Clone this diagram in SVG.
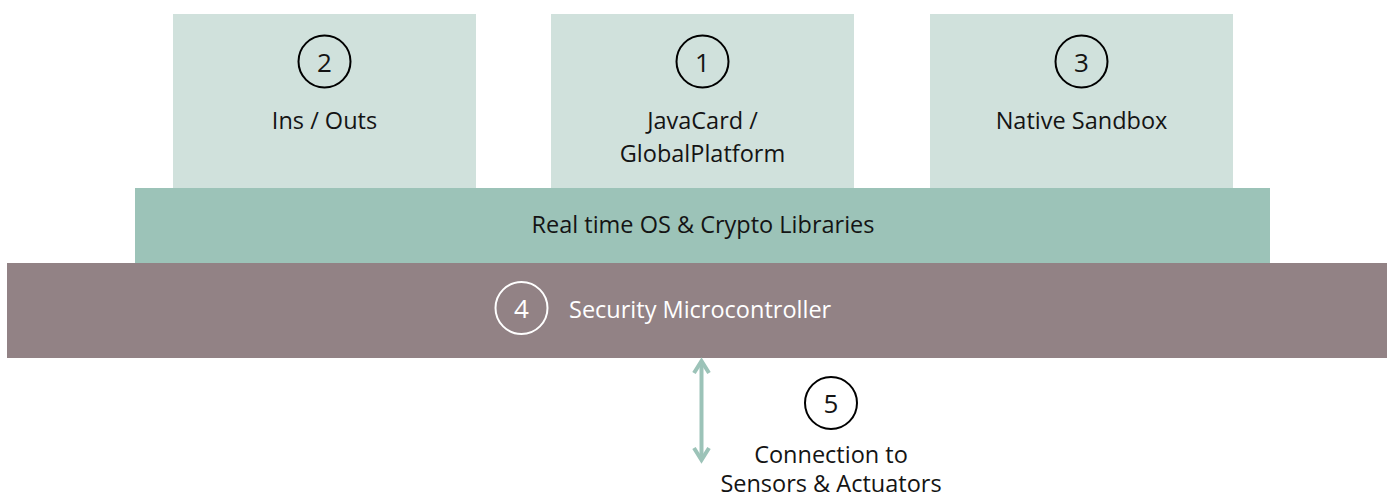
<svg xmlns="http://www.w3.org/2000/svg" width="1387" height="497" viewBox="0 0 1387 497">
  <style>
    .top { fill: #d0e1dc; }
    .os { fill: #9cc3b8; }
    .mcu { fill: #928285; }
    .lbl { font-family: "Open Sans", "Liberation Sans", sans-serif; font-size: 23.5px; fill: #141414; text-anchor: middle; }
    .num { font-family: "Open Sans", "Liberation Sans", sans-serif; font-size: 26px; fill: #141414; text-anchor: middle; }
    .ring { fill: none; stroke: #000; stroke-width: 2; }
  </style>
  <rect width="1387" height="497" fill="#ffffff"/>
  <g id="node-ins-outs">
    <rect class="top" x="173" y="14" width="303" height="175"/>
    <circle class="ring" cx="324.5" cy="61.5" r="26"/>
    <text class="num" x="324.5" y="71.5">2</text>
    <text class="lbl" x="324.5" y="129">Ins / Outs</text>
  </g>
  <g id="node-javacard">
    <rect class="top" x="551" y="14" width="303" height="175"/>
    <circle class="ring" cx="702.5" cy="61.5" r="26"/>
    <text class="num" x="702.5" y="71.5">1</text>
    <text class="lbl" x="702.5" y="129">JavaCard /</text>
    <text class="lbl" x="702.5" y="162">GlobalPlatform</text>
  </g>
  <g id="node-native-sandbox">
    <rect class="top" x="930" y="14" width="303" height="175"/>
    <circle class="ring" cx="1081.5" cy="61.5" r="26"/>
    <text class="num" x="1081.5" y="71.5">3</text>
    <text class="lbl" x="1081.5" y="129">Native Sandbox</text>
  </g>
  <g id="node-rtos">
    <rect class="os" x="135" y="188" width="1135" height="75"/>
    <text class="lbl" x="703" y="233">Real time OS &amp; Crypto Libraries</text>
  </g>
  <g id="node-mcu">
    <rect class="mcu" x="7" y="263" width="1380" height="95"/>
    <circle class="ring" cx="521.5" cy="308" r="26" style="stroke:#ffffff"/>
    <text class="num" x="521.5" y="317.5" style="fill:#ffffff">4</text>
    <text class="lbl" x="569" y="318" style="fill:#ffffff;text-anchor:start">Security Microcontroller</text>
  </g>
  <g id="node-sensors">
    <circle class="ring" cx="831" cy="403" r="26"/>
    <text class="num" x="831" y="413">5</text>
    <text class="lbl" x="831" y="463">Connection to</text>
    <text class="lbl" x="831" y="492">Sensors &amp; Actuators</text>
  </g>
  <g id="connectors" stroke="#9cc3b8" stroke-width="4" fill="none">
    <line x1="701.5" y1="361" x2="701.5" y2="460"/>
    <polyline points="694,373 701.5,361 709,373" stroke-linejoin="miter"/>
    <polyline points="694,448 701.5,460 709,448" stroke-linejoin="miter"/>
  </g>
</svg>
